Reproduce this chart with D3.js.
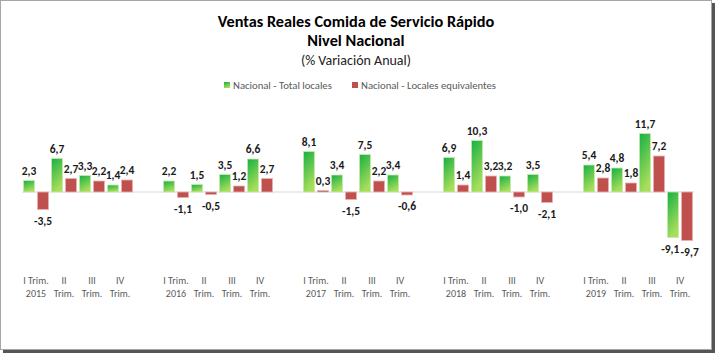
<!DOCTYPE html>
<html>
<head>
<meta charset="utf-8">
<script src="https://cdn.jsdelivr.net/npm/d3@7"></script>
<style>
  html, body { margin: 0; padding: 0; background: #fff; }
  svg { display: block; }
  text { font-family: Calibri, Carlito, Lato, "Open Sans", sans-serif; }
</style>
</head>
<body>
<svg id="chart" width="718" height="355"></svg>
<script>
const years = ["2015", "2016", "2017", "2018", "2019"];
const quarters = ["I", "II", "III", "IV"];
const seriesNames = ["Nacional - Total locales", "Nacional - Locales equivalentes"];
const totalLocales = [
  2.3, 6.7, 3.3, 1.4,
  2.2, 1.5, 3.5, 6.6,
  8.1, 3.4, 7.5, 3.4,
  6.9, 10.3, 3.2, 3.5,
  5.4, 4.8, 11.7, -9.1
];
const localesEquiv = [
  -3.5, 2.7, 2.2, 2.4,
  -1.1, -0.5, 1.2, 2.7,
  0.3, -1.5, 2.2, -0.6,
  1.4, 3.2, -1.0, -2.1,
  2.8, 1.8, 7.2, -9.7
];
const titleLines = ["Ventas Reales Comida de Servicio Rápido", "Nivel Nacional"];
const subtitle = "(% Variación Anual)";

const W = 718, H = 355;
const svg = d3.select("#chart");

// frame with shadow
svg.append("rect").attr("x", 3).attr("y", 3).attr("width", 712).attr("height", 350).attr("fill", "#555");
svg.append("rect").attr("x", 0.5).attr("y", 0.5).attr("width", 711).attr("height", 349)
  .attr("fill", "#fff").attr("stroke", "#a6a6a6").attr("stroke-width", 1);

// build slots (with empty slot between years)
const rows = [];
years.forEach((yr, yi) => {
  quarters.forEach((q, qi) => {
    const i = yi * 4 + qi;
    rows.push({ slot: yi * 5 + qi, year: yr, q: q, qi: qi, g: totalLocales[i], r: localesEquiv[i] });
  });
});
const nSlots = years.length * 5 - 1;

const x = d3.scaleBand().domain(d3.range(nSlots)).range([22, 694]).paddingInner(0).paddingOuter(0);
const x1 = d3.scaleBand().domain(["g", "r"]).range([0, x.bandwidth()]).paddingInner(0.2).paddingOuter(0.1);
const y = d3.scaleLinear().domain([-12, 14]).range([252, 122]);

const defs = svg.append("defs");
const grad = defs.append("linearGradient").attr("id", "gGrad")
  .attr("x1", 0).attr("y1", 0).attr("x2", 0.35).attr("y2", 1);
grad.append("stop").attr("offset", "0%").attr("stop-color", "#16b043");
grad.append("stop").attr("offset", "100%").attr("stop-color", "#a8de5a");

// zero line
svg.append("line").attr("x1", x.range()[0]).attr("x2", x.range()[1])
  .attr("y1", y(0)).attr("y2", y(0)).attr("stroke", "#d9d9d9").attr("stroke-width", 1.2);

const fills = { g: "url(#gGrad)", r: "#c0504d" };
const strokes = { g: "#c6ebb0", r: "#eab3b3" };

["g", "r"].forEach(k => {
  svg.append("g").selectAll("rect").data(rows).join("rect")
    .attr("x", d => x(d.slot) + x1(k))
    .attr("width", x1.bandwidth())
    .attr("y", d => y(Math.max(0, d[k])))
    .attr("height", d => Math.abs(y(d[k]) - y(0)))
    .attr("fill", fills[k])
    .attr("stroke", strokes[k]).attr("stroke-width", 0.8);
});

const fmt = v => d3.format(".1f")(v).replace("−", "-").replace(".", ",");

const labelSel = {};
["g", "r"].forEach(k => {
  labelSel[k] = svg.append("g").selectAll("text").data(rows).join("text")
    .attr("x", d => x(d.slot) + x1(k) + x1.bandwidth() / 2)
    .attr("y", d => d[k] >= 0 ? y(d[k]) - 6 : y(d[k]) + 15)
    .attr("text-anchor", "middle")
    .attr("font-size", 11.5).attr("font-weight", "bold").attr("fill", "#1a1a1a")
    .text(d => fmt(d[k]));
});

// dodge only strongly colliding same-slot labels
const gNodes = labelSel.g.nodes(), rNodes = labelSel.r.nodes();
gNodes.forEach((gn, i) => {
  const rn = rNodes[i];
  const a = gn.getBBox(), b = rn.getBBox();
  const vOverlap = Math.min(a.y + a.height, b.y + b.height) - Math.max(a.y, b.y);
  const hOverlap = (a.x + a.width) - b.x;
  if (vOverlap > 6 && hOverlap > 3) {
    const s = (hOverlap + 1) / 2;
    gn.setAttribute("x", +gn.getAttribute("x") - s);
    rn.setAttribute("x", +rn.getAttribute("x") + s);
  }
});

// category labels
const cat = svg.append("g").attr("fill", "#595959").attr("font-size", 10);
rows.forEach(d => {
  const cx = x(d.slot) + x.bandwidth() / 2;
  cat.append("text").attr("x", cx).attr("y", 284).attr("text-anchor", "middle").attr("fill", "#595959")
    .text(d.qi === 0 ? d.q + " Trim." : d.q);
  cat.append("text").attr("x", cx).attr("y", 297).attr("text-anchor", "middle").attr("fill", "#595959")
    .text(d.qi === 0 ? d.year : "Trim.");
});

// titles
svg.append("text").attr("x", 356).attr("y", 27).attr("text-anchor", "middle")
  .attr("font-size", 16.3).attr("font-weight", "bold").attr("fill", "#000").text(titleLines[0]);
svg.append("text").attr("x", 356).attr("y", 46).attr("text-anchor", "middle")
  .attr("font-size", 16.3).attr("font-weight", "bold").attr("fill", "#000").text(titleLines[1]);
svg.append("text").attr("x", 356).attr("y", 65).attr("text-anchor", "middle")
  .attr("font-size", 14).attr("fill", "#222").text(subtitle);

// legend
const legendItems = [
  { name: seriesNames[0], fill: "url(#gGrad)", x: 224 },
  { name: seriesNames[1], fill: "#c0504d", x: 352 }
];
const lg = svg.append("g");
legendItems.forEach(it => {
  lg.append("rect").attr("x", it.x).attr("y", 82).attr("width", 6).attr("height", 6).attr("fill", it.fill);
  lg.append("text").attr("x", it.x + 9).attr("y", 89).attr("font-size", 10.7).attr("fill", "#595959").text(it.name);
});
</script>
</body>
</html>
